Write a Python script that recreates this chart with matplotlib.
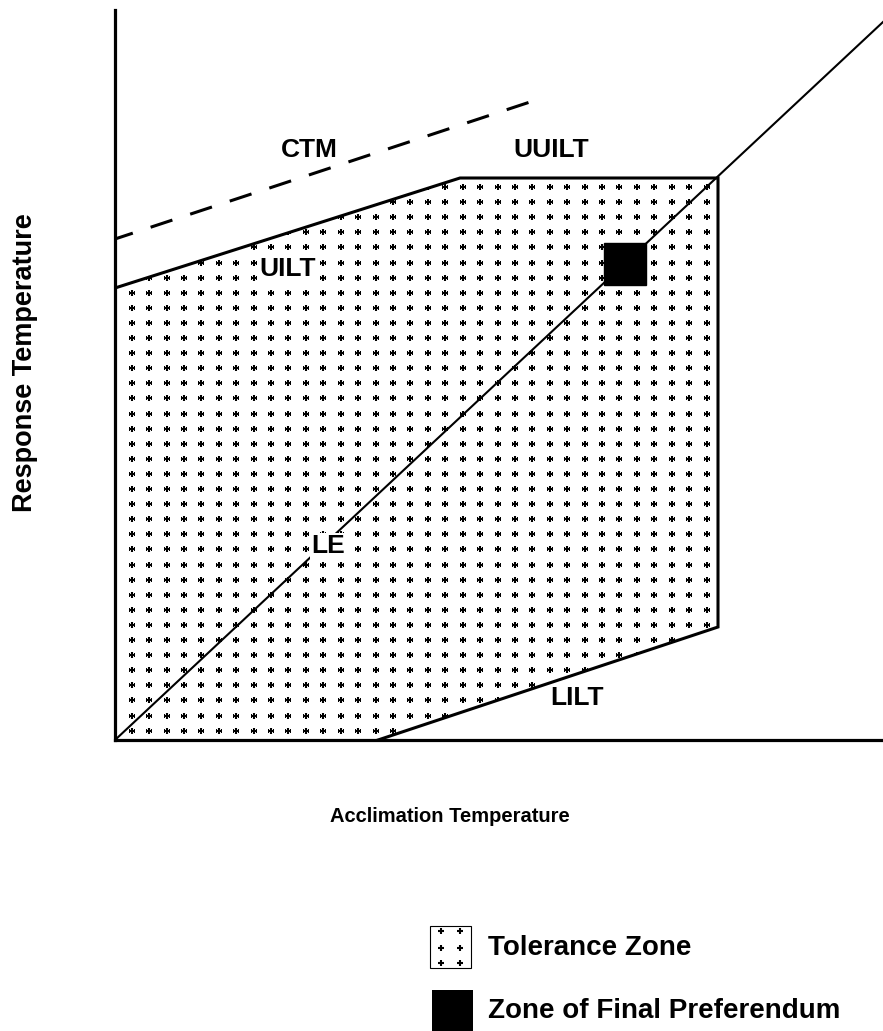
import matplotlib.pyplot as plt
import numpy as np
from matplotlib.patches import Polygon, Rectangle

plt.rcParams['lines.scale_dashes'] = False

# tolerance zone outline (acclimation, response), units relative to origin
tol_x = [0, 0, 345, 603, 603, 263]
tol_y = [0, 452, 562, 562, 113, 0]
# critical thermal maximum
ctm_x = [0, 415]
ctm_y = [501, 638]
# line of equality
le_x = [0, 768]
le_y = [0, 718]
# zone of final preferendum (centre, side)
pref_c = (510, 476.5)
pref_side = 42

labels = ['CTM', 'UUILT', 'UILT', 'LE', 'LILT']
label_x = [194, 436, 173, 213, 462]
label_y = [590, 590, 471, 194, 42]

W, H = 883, 1031
fig = plt.figure(figsize=(W / 100, H / 100), dpi=100)

# overlay for labels and legend, in pixels
lay = fig.add_axes([0, 0, 1, 1])
lay.set_xlim(0, W)
lay.set_ylim(H, 0)
lay.axis('off')

ax = fig.add_axes([115 / W, (H - 740) / H, 768 / W, 730 / H])
ax.set_xlim(0, 768)
ax.set_ylim(0, 730)
ax.patch.set_alpha(0)
for s in ['top', 'right']:
    ax.spines[s].set_visible(False)
for s in ['left', 'bottom']:
    ax.spines[s].set_linewidth(2.3)
ax.set_xticks([])
ax.set_yticks([])

# dotted fill of the tolerance zone
zone = Polygon(np.column_stack([tol_x, tol_y]), closed=True, facecolor='none',
               edgecolor='none')
ax.add_patch(zone)
gx, gy = np.meshgrid(16.7 + 17.42 * np.arange(40), 553 - 15.1 * np.arange(37))
dots = ax.plot(gx.ravel(), gy.ravel(), '+', color='black', ms=4.5, mew=1.5)[0]
dots.set_clip_path(zone)

# tolerance zone boundaries (not along the axes)
ax.plot(tol_x[1:], tol_y[1:], color='black', lw=2.2, solid_joinstyle='miter')
ax.plot(ctm_x, ctm_y, color='black', lw=2.2, linestyle=(3, (16.5, 13.5)))
ax.plot(le_x, le_y, color='black', lw=1.5)
ax.add_patch(Rectangle((pref_c[0] - pref_side / 2, pref_c[1] - pref_side / 2),
                       pref_side, pref_side, facecolor='black',
                       edgecolor='black', zorder=4))

lab_font = dict(family=['Liberation Sans', 'DejaVu Sans'], weight='bold', size=19)
for t, x, y in zip(labels, label_x, label_y):
    ax.text(x, y, t, ha='center', va='center', zorder=5,
            bbox=dict(facecolor='white', edgecolor='none', pad=0.5), **lab_font)

# axis titles
lay.text(450, 822, 'Acclimation Temperature', ha='center', va='baseline',
         family=['Liberation Sans', 'DejaVu Sans'], weight='bold', size=14.5)
lay.text(25, 363, 'Response Temperature', ha='center', va='center', rotation=90,
         family=['Liberation Sans', 'DejaVu Sans'], weight='bold', size=19.5)

# legend
box = Rectangle((430, 926), 41, 42, facecolor='white', edgecolor='black', lw=0.8)
lay.add_patch(box)
lx, ly = np.meshgrid([440.7, 459.5], [930.7, 947.5, 962.7])
lay.plot(lx.ravel(), ly.ravel(), '+', color='black', ms=4.5, mew=1.5)
lay.add_patch(Rectangle((432, 990), 41, 45, facecolor='black', edgecolor='none'))
leg_font = dict(family=['Liberation Sans', 'DejaVu Sans'], weight='bold', size=20)
lay.text(488, 955, 'Tolerance Zone', ha='left', va='baseline', **leg_font)
lay.text(488, 1018, 'Zone of Final Preferendum', ha='left', va='baseline', **leg_font)

fig.savefig('out.png', dpi=100)
